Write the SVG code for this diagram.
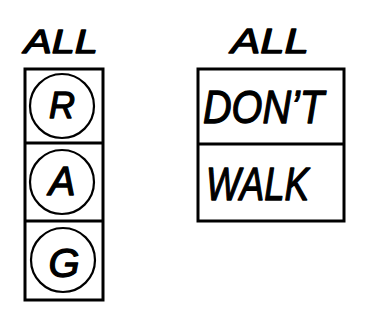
<svg xmlns="http://www.w3.org/2000/svg" width="382" height="321" viewBox="0 0 382 321">
<style>
.frame{fill:none;stroke:#000;stroke-width:3}
.lamp{fill:none;stroke:#000;stroke-width:2.2}
.t{font-family:"Liberation Sans",Arial,sans-serif;font-style:italic;font-weight:normal;fill:#000;stroke:#000;stroke-width:1.3;stroke-linejoin:round}
</style>
<rect width="382" height="321" fill="#fff"/>
<g id="vehicle-signal">
<text class="t" x="24" y="53" font-size="33" textLength="74" lengthAdjust="spacingAndGlyphs">ALL</text>
<rect class="frame" x="25" y="69" width="78" height="231"/>
<line class="frame" x1="25" y1="143" x2="103" y2="143"/>
<line class="frame" x1="25" y1="221" x2="103" y2="221"/>
</g>
<g id="lamp-r"><circle class="lamp" cx="62" cy="106" r="32"/><text class="t" x="62" y="118" font-size="36" text-anchor="middle">R</text></g>
<g id="lamp-a"><circle class="lamp" cx="62" cy="182" r="32"/><text class="t" x="62" y="195" font-size="40" text-anchor="middle">A</text></g>
<g id="lamp-g"><circle class="lamp" cx="63" cy="260" r="32"/><text class="t" x="64" y="277" font-size="40" text-anchor="middle">G</text></g>
<g id="pedestrian-signal">
<text class="t" x="231" y="53" font-size="35" textLength="78" lengthAdjust="spacingAndGlyphs">ALL</text>
<rect class="frame" x="198" y="69" width="146" height="152"/>
<line class="frame" x1="198" y1="144" x2="344" y2="144"/>
<text class="t" x="203" y="123" font-size="47" textLength="121" lengthAdjust="spacingAndGlyphs">DON’T</text>
<text class="t" x="206" y="200" font-size="47" textLength="103" lengthAdjust="spacingAndGlyphs">WALK</text>
</g>
<g id="connectors"></g>
</svg>
